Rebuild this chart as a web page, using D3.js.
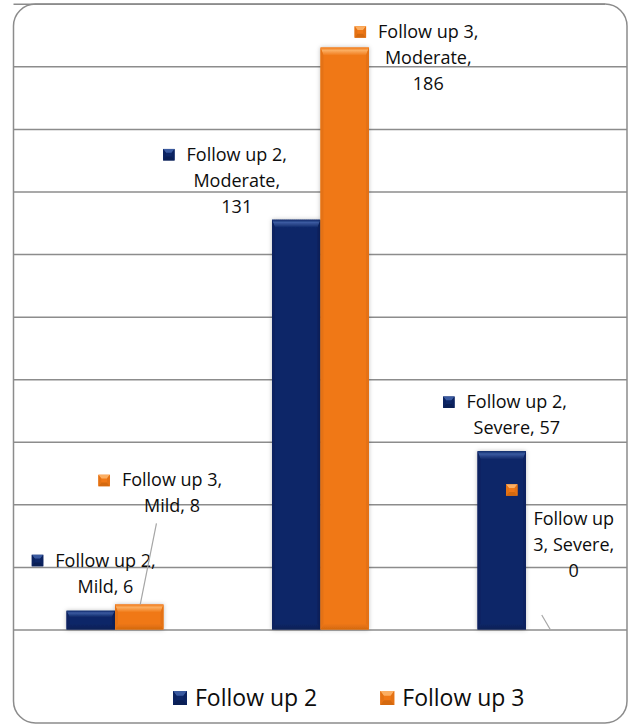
<!DOCTYPE html>
<html>
<head>
<meta charset="utf-8">
<script src="https://cdn.jsdelivr.net/npm/d3@7"></script>
<style>
  html, body { margin: 0; padding: 0; background: #fff; }
  svg { display: block; }
  text { font-family: "Open Sans", "Liberation Sans", sans-serif; fill: #0d0d0d; }
</style>
</head>
<body>
<svg id="chart" width="630" height="726"></svg>
<script>
// ---- data ----
const categories = ["Mild", "Moderate", "Severe"];
const seriesNames = ["Follow up 2", "Follow up 3"];
const followUp2 = [6, 131, 57];
const followUp3 = [8, 186, 0];
const yTickValues = [0, 20, 40, 60, 80, 100, 120, 140, 160, 180, 200];

const seriesValues = [followUp2, followUp3];

// ---- palette (base, light bevel, dark bevel, side bevel) ----
const palette = {
  "Follow up 2": { id: "fu2", base: "#0e2768", light: "#3a5aa0", dark: "#0a1f55", side: "#0c2360" },
  "Follow up 3": { id: "fu3", base: "#f07816", light: "#fbae62", dark: "#d4690f", side: "#e47214" }
};

// ---- layout ----
const frame = { left: 13.5, top: 4, right: 627, bottom: 723, r: 22 };
const plot = { left: 12.25, right: 628.75, top: 3.8, bottom: 629.5 };

const svg = d3.select("#chart");

const x0 = d3.scaleBand().domain(categories).range([plot.left, plot.right]).padding(0);
const bw = x0.bandwidth();
const x1 = d3.scaleBand().domain(seriesNames).range([bw * 0.264, bw * 0.736]).padding(0);
const y = d3.scaleLinear().domain([0, 200]).range([plot.bottom, plot.top]);

const defs = svg.append("defs");
// soft halo behind bars
const f = defs.append("filter").attr("id", "halo")
  .attr("x", "-30%").attr("y", "-30%").attr("width", "160%").attr("height", "160%");
f.append("feDropShadow").attr("dx", 0).attr("dy", 0)
  .attr("stdDeviation", 2.2).attr("flood-color", "#000").attr("flood-opacity", 0.25);

// gradients for the bevel faces
Object.values(palette).forEach(c => {
  const top = defs.append("linearGradient").attr("id", c.id + "-top")
    .attr("x1", 0).attr("y1", 0).attr("x2", 0).attr("y2", 1);
  top.append("stop").attr("offset", "0%").attr("stop-color", c.base);
  top.append("stop").attr("offset", "35%").attr("stop-color", c.light);
  top.append("stop").attr("offset", "100%").attr("stop-color", c.base);
  const bot = defs.append("linearGradient").attr("id", c.id + "-bot")
    .attr("x1", 0).attr("y1", 0).attr("x2", 0).attr("y2", 1);
  bot.append("stop").attr("offset", "0%").attr("stop-color", c.base);
  bot.append("stop").attr("offset", "100%").attr("stop-color", c.dark);
});

// outer frame
svg.append("rect")
  .attr("x", frame.left).attr("y", frame.top)
  .attr("width", frame.right - frame.left).attr("height", frame.bottom - frame.top)
  .attr("rx", frame.r).attr("ry", frame.r)
  .attr("fill", "#fff").attr("stroke", "#8c8c8c").attr("stroke-width", 1.5);

// horizontal gridlines
const yAxis = d3.axisLeft(y).tickValues(yTickValues).tickFormat("")
  .tickSize(-(frame.right - frame.left)).tickSizeOuter(0);
const grid = svg.append("g").attr("transform", `translate(${frame.left},0)`).call(yAxis);
grid.select(".domain").remove();
grid.selectAll(".tick line")
  .attr("stroke", "#8c8c8c").attr("stroke-width", 1.5)
  .attr("x2", d => d === 200 ? (frame.right - frame.left - frame.r) : (frame.right - frame.left));

// bevelled block
function bevelBlock(g, x, yTop, w, h, c, t, s, b, flat) {
  t = Math.min(t, h / 3); b = Math.min(b, h / 3); s = Math.min(s, w / 4);
  g.append("rect").attr("x", x).attr("y", yTop).attr("width", w).attr("height", h).attr("fill", c.base);
  const poly = (pts, fill) => g.append("polygon").attr("points", pts.map(p => p.join(",")).join(" ")).attr("fill", fill);
  poly([[x, yTop], [x + w, yTop], [x + w - s, yTop + t], [x + s, yTop + t]], flat ? c.light : `url(#${c.id}-top)`);
  poly([[x, yTop + h], [x + w, yTop + h], [x + w - s, yTop + h - b], [x + s, yTop + h - b]], flat ? c.dark : `url(#${c.id}-bot)`);
  poly([[x, yTop], [x + s, yTop + t], [x + s, yTop + h - b], [x, yTop + h]], c.side);
  poly([[x + w, yTop], [x + w - s, yTop + t], [x + w - s, yTop + h - b], [x + w, yTop + h]], c.side);
}

// bars
const bars = [];
seriesNames.forEach((s, si) => {
  categories.forEach((cat, ci) => {
    const v = seriesValues[si][ci];
    bars.push({ series: s, category: cat, value: v,
      x: x0(cat) + x1(s), w: x1.bandwidth(), top: y(v), h: y(0) - y(v) });
  });
});

const barLayer = svg.append("g");
bars.filter(d => d.h > 0).forEach(d => {
  const g = barLayer.append("g").attr("filter", "url(#halo)");
  bevelBlock(g, d.x, d.top, d.w, d.h, palette[d.series], 8, 3, 6);
});

// data label placement: offsets from bar centre / bar top
const labelLayout = {
  "Follow up 2|Mild":     { dx: 14.7, dy: -44.2, lines: ["Follow up 2,", "Mild, 6"] },
  "Follow up 3|Mild":     { dx: 32.8, dy: -118, lines: ["Follow up 3,", "Mild, 8"], leader: [17.2, -81.2, 1, 0] },
  "Follow up 2|Moderate": { dx: -59.5, dy: -59, lines: ["Follow up 2,", "Moderate,", "131"] },
  "Follow up 3|Moderate": { dx: 83.5, dy: -9.7, lines: ["Follow up 3,", "Moderate,", "186"] },
  "Follow up 2|Severe":   { dx: 15, dy: -43, lines: ["Follow up 2,", "Severe, 57"] },
  "Follow up 3|Severe":   { dx: 23.5, dy: -105, lines: ["Follow up", "3, Severe,", "0"],
                            key: [-62, -34.5], leader: [-8.5, -14.5, 0, 0] }
};

const labelLayer = svg.append("g");
const lineH = 26;
const keySize = 11.5;

bars.forEach(d => {
  const L = labelLayout[d.series + "|" + d.category];
  const v = d.value;
  const cx = d.x + d.w / 2, ty = y(v);
  const lc = cx + L.dx, b1 = ty + L.dy;

  if (L.leader) {
    labelLayer.append("line")
      .attr("x1", cx + L.leader[0]).attr("y1", ty + L.leader[1])
      .attr("x2", cx + L.leader[2]).attr("y2", ty + L.leader[3])
      .attr("stroke", "#a6a6a6").attr("stroke-width", 1.2);
  }

  const t = labelLayer.append("text").attr("font-size", 18).attr("text-anchor", "middle");
  L.lines.forEach((ln, i) => {
    t.append("tspan").attr("x", lc).attr("y", b1 + i * lineH).text(ln);
  });

  let kx, ky;
  if (L.key) {
    kx = lc + L.key[0] - keySize / 2; ky = b1 + L.key[1] - keySize / 2;
  } else {
    const w1 = t.select("tspan").node().getComputedTextLength();
    kx = lc - w1 / 2 - 12 - keySize; ky = b1 - 6 - keySize / 2;
  }
  const kg = labelLayer.append("g");
  bevelBlock(kg, kx, ky, keySize, keySize, palette[d.series], 4, 4, 4, true);
});

// legend
const legend = svg.append("g");
let lx = 173;
seriesNames.forEach(s => {
  const g = legend.append("g");
  bevelBlock(g, lx, 691, 14, 14, palette[s], 5, 5, 5, true);
  const tx = g.append("text").attr("x", lx + 22).attr("y", 705.5).attr("font-size", 23).text(s);
  lx += 22 + tx.node().getComputedTextLength() + 63;
});
</script>
</body>
</html>
